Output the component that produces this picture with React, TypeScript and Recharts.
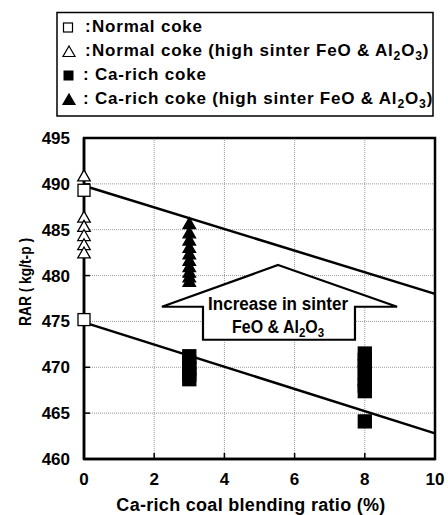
import React from 'react'
import { ScatterChart, Scatter, XAxis, YAxis, CartesianGrid, ReferenceLine, ReferenceArea } from 'recharts'

const xTicks = [0, 2, 4, 6, 8, 10]
const yTicks = [460, 465, 470, 475, 480, 485, 490, 495]

// x = Ca-rich coal blending ratio (%), y = RAR (kg/t-p)
const normalCoke = [
  { x: 0, y: 489.3 },
  { x: 0, y: 475.2 },
]
const normalCokeHigh = [
  { x: 0, y: 490.8 },
  { x: 0, y: 486.3 },
  { x: 0, y: 485.3 },
  { x: 0, y: 484.3 },
  { x: 0, y: 483.3 },
  { x: 0, y: 482.4 },
]
const caRichCoke = [
  { x: 3, y: 471.2 },
  { x: 3, y: 470.5 },
  { x: 3, y: 469.8 },
  { x: 3, y: 469.2 },
  { x: 3, y: 468.7 },
  { x: 8, y: 471.5 },
  { x: 8, y: 470.8 },
  { x: 8, y: 470.1 },
  { x: 8, y: 469.4 },
  { x: 8, y: 468.6 },
  { x: 8, y: 468.0 },
  { x: 8, y: 467.4 },
  { x: 8, y: 464.1 },
]
const caRichCokeHigh = [
  { x: 3, y: 485.6 },
  { x: 3, y: 484.6 },
  { x: 3, y: 483.8 },
  { x: 3, y: 483.0 },
  { x: 3, y: 482.3 },
  { x: 3, y: 481.6 },
  { x: 3, y: 480.9 },
  { x: 3, y: 480.3 },
  { x: 3, y: 479.8 },
  { x: 3, y: 479.3 },
]

const upperTrend = [{ x: 0, y: 489.8 }, { x: 10, y: 478.0 }]
const lowerTrend = [{ x: 0, y: 474.9 }, { x: 10, y: 462.8 }]

// outline of the "increase" arrow, in data units
const arrowOutline = [
  { x: 5.53, y: 481.15 },
  { x: 8.92, y: 476.6 },
  { x: 7.72, y: 476.6 },
  { x: 7.72, y: 473.0 },
  { x: 3.39, y: 473.0 },
  { x: 3.39, y: 476.6 },
  { x: 2.22, y: 476.6 },
]
const arrowText = [
  { x: 5.53, y: 476.25, text: 'Increase in sinter', len: 140 },
  { x: 5.53, y: 473.75, text: 'FeO & Al|2|O|3|', len: 92 },
]

const FONT = '"Liberation Sans", Arial, Helvetica, sans-serif'

// "Al|2|O|3|" -> odd pieces are subscripts
const Chem = ({ s, sub }: { s: string; sub: number }) => {
  const parts = s.split('|')
  return (
    <>
      {parts.map((p, i) =>
        i % 2 === 1 ? (
          <tspan key={i} dy={sub * 0.25} fontSize={sub * 0.72}>{p}</tspan>
        ) : (
          <tspan key={i} dy={i === 0 ? 0 : -sub * 0.25}>{p}</tspan>
        )
      )}
    </>
  )
}

const Square = (filled: boolean) => (props: any) => {
  const { cx, cy } = props
  const s = filled ? 13 : 12
  return (
    <rect x={cx - s / 2} y={cy - s / 2} width={s} height={s}
      fill={filled ? '#000' : '#fff'} stroke="#000" strokeWidth={1.3} />
  )
}

const Triangle = (filled: boolean) => (props: any) => {
  const { cx, cy } = props
  const w = 12.5
  const h = 11
  const d = `M${cx},${cy - h * 0.6} L${cx + w / 2},${cy + h * 0.4} L${cx - w / 2},${cy + h * 0.4} Z`
  return <path d={d} fill={filled ? '#000' : '#fff'} stroke="#000" strokeWidth={1.3} strokeLinejoin="miter" />
}

const xs = arrowOutline.map((p) => p.x)
const ys = arrowOutline.map((p) => p.y)
const ax1 = Math.min(...xs)
const ax2 = Math.max(...xs)
const ay1 = Math.min(...ys)
const ay2 = Math.max(...ys)

const ArrowShape = (props: any) => {
  const { x, y, width, height } = props
  const px = (v: number) => x + ((v - ax1) / (ax2 - ax1)) * width
  const py = (v: number) => y + ((ay2 - v) / (ay2 - ay1)) * height
  const pts = arrowOutline.map((p) => `${px(p.x)},${py(p.y)}`).join(' ')
  return (
    <g>
      <polygon points={pts} fill="#fff" stroke="#000" strokeWidth={2.2} strokeLinejoin="miter" />
      {arrowText.map((t, i) => (
        <text key={i} x={px(t.x)} y={py(t.y)} textAnchor="middle" fontFamily={FONT}
          fontWeight="bold" fontSize={18} fill="#000" textLength={t.len} lengthAdjust="spacingAndGlyphs">
          <Chem s={t.text} sub={18} />
        </text>
      ))}
    </g>
  )
}

const legendRows = [
  { shape: 'square', filled: false, text: 'Normal coke' },
  { shape: 'triangle', filled: false, text: 'Normal coke (high sinter FeO & Al|2|O|3|)' },
  { shape: 'square', filled: true, text: 'Ca-rich coke' },
  { shape: 'triangle', filled: true, text: 'Ca-rich coke (high sinter FeO & Al|2|O|3|)' },
]

const LegendBox = () => (
  <svg width={448} height={130} style={{ position: 'absolute', left: 0, top: 0, pointerEvents: 'none' }}>
    <rect x={57} y={12.5} width={376} height={103.5} fill="#fff" stroke="#000" strokeWidth={1.5} />
    {legendRows.map((r, i) => {
      const base = 32 + i * 24
      const cy = base - 4.5
      const mark =
        r.shape === 'square' ? (
          r.filled ? (
            <rect x={63.5} y={cy - 5} width={10} height={10} fill="#000" />
          ) : (
            <rect x={63.5} y={cy - 4.5} width={9} height={9} fill="#fff" stroke="#000" strokeWidth={1.2} />
          )
        ) : (
          <path d={`M69,${cy - 5.5} L75,${cy + 5} L63,${cy + 5} Z`} fill={r.filled ? '#000' : '#fff'}
            stroke="#000" strokeWidth={1.2} />
        )
      const colonX = r.filled ? 83 : 85
      const textX = r.filled ? 95 : 92
      return (
        <g key={i}>
          {mark}
          <text x={colonX} y={base} fontFamily={FONT} fontWeight="bold" fontSize={17}>:</text>
          <text x={textX} y={base} fontFamily={FONT} fontWeight="bold" fontSize={17} letterSpacing={0.8}>
            <Chem s={r.text} sub={17} />
          </text>
        </g>
      )
    })}
  </svg>
)

const YTick = (props: any) => {
  const { y, payload } = props
  return (
    <text x={70} y={y} dy="0.355em" textAnchor="end" fontFamily={FONT} fontWeight="bold" fontSize={17} fill="#000">
      {payload.value}
    </text>
  )
}

const XTick = (props: any) => {
  const { x, payload } = props
  return (
    <text x={x} y={473} dy="0.71em" textAnchor="middle" fontFamily={FONT} fontWeight="bold" fontSize={17} fill="#000">
      {payload.value}
    </text>
  )
}

export default function App() {
  return (
    <div style={{ position: 'absolute', left: 0, top: 0, width: 448, height: 515, background: '#fff' }}>
      <ScatterChart width={448} height={515} margin={{ top: 138, right: 13, bottom: 26, left: 34 }}>
        <CartesianGrid stroke="#999" strokeDasharray="1 1" strokeWidth={1} />
        <XAxis type="number" dataKey="x" domain={[0, 10]} ticks={xTicks} height={30}
          tick={XTick} tickSize={-6} tickLine={{ stroke: '#000', strokeWidth: 1.5 }}
          axisLine={{ stroke: '#000', strokeWidth: 2.5 }} />
        <YAxis type="number" dataKey="y" domain={[460, 495]} ticks={yTicks} width={50}
          tick={YTick} tickSize={-6} tickLine={{ stroke: '#000', strokeWidth: 1.5 }}
          axisLine={{ stroke: '#000', strokeWidth: 2.5 }} />
        <ReferenceArea x1={0} x2={10} y1={460} y2={495} fill="none" stroke="#000" strokeWidth={2.5} fillOpacity={0} />
        <ReferenceArea x1={ax1} x2={ax2} y1={ay1} y2={ay2} shape={ArrowShape} />
        <ReferenceLine segment={upperTrend} stroke="#000" strokeWidth={2.5} />
        <ReferenceLine segment={lowerTrend} stroke="#000" strokeWidth={2.5} />
        <Scatter data={caRichCokeHigh} shape={Triangle(true)} isAnimationActive={false} />
        <Scatter data={caRichCoke} shape={Square(true)} isAnimationActive={false} />
        <Scatter data={normalCokeHigh} shape={Triangle(false)} isAnimationActive={false} />
        <Scatter data={normalCoke} shape={Square(false)} isAnimationActive={false} />
      </ScatterChart>
      <LegendBox />
      <svg width={448} height={515} style={{ position: 'absolute', left: 0, top: 0, pointerEvents: 'none' }}>
        <text transform="translate(31,282) rotate(-90)" textAnchor="middle" fontFamily={FONT}
          fontWeight="bold" fontSize={17} textLength={88} lengthAdjust="spacingAndGlyphs">
          RAR ( kg/t-p )
        </text>
        <text x={251} y={511} textAnchor="middle" fontFamily={FONT} fontWeight="bold" fontSize={18}
          letterSpacing={0.3}>
          Ca-rich coal blending ratio (%)
        </text>
      </svg>
    </div>
  )
}
